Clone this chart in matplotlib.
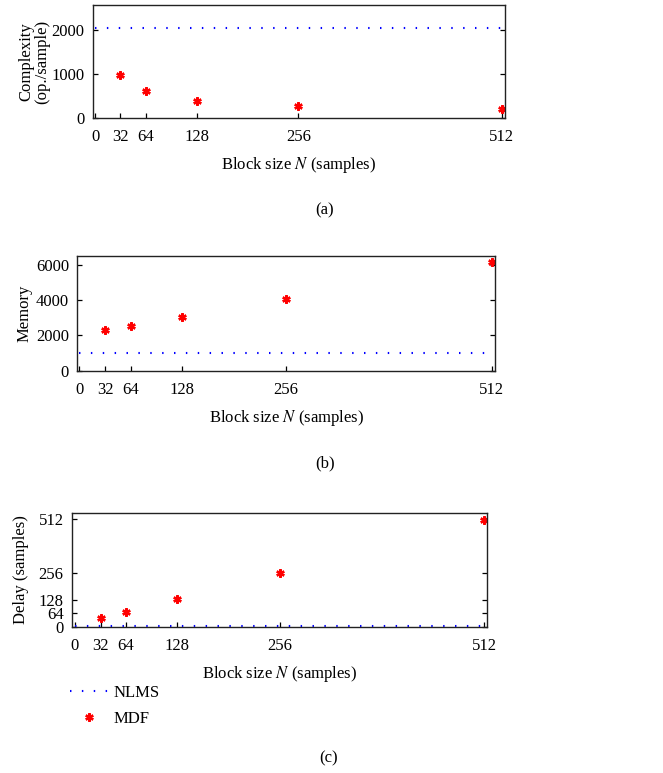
import numpy as np
import matplotlib
matplotlib.use("Agg")
import matplotlib.pyplot as plt

plt.rcParams['font.family'] = ['Liberation Serif', 'DejaVu Serif']
plt.rcParams['mathtext.fontset'] = 'stix'
plt.rcParams['font.size'] = 12

N = [32, 64, 128, 256, 512]
xticks = [0, 32, 64, 128, 256, 512]
nlms_x = [0, 512]

mdf_complexity = [980, 605, 385, 270, 212]
nlms_complexity = 2048
mdf_memory = [2305, 2550, 3060, 4080, 6120]
nlms_memory = 1024
mdf_delay = [40, 72, 133, 256, 507]
nlms_delay = 3

fig = plt.figure(figsize=(6.63, 7.73), dpi=100)
ax_a = fig.add_axes([0.1403, 0.8473, 0.6214, 0.1462])
ax_b = fig.add_axes([0.1166, 0.5204, 0.6300, 0.1488])
ax_c = fig.add_axes([0.1086, 0.1893, 0.6264, 0.1467])

dots = (0, (0.7, 5.0))
panels = [
    (ax_a, mdf_complexity, nlms_complexity, "Complexity\n(op./sample)", [0, 1000, 2000], (0, 2560), (-2.5, 516), -0.104),
    (ax_b, mdf_memory, nlms_memory, "Memory", [0, 2000, 4000, 6000], (0, 6500), (-2.5, 516), -0.108),
    (ax_c, mdf_delay, nlms_delay, "Delay (samples)", [0, 64, 128, 256, 512], (0, 540), (-3.7, 516), -0.104),
]

for ax, mdf, nlms, ylab, yt, ylim, xlim, labx in panels:
    l1, = ax.plot(nlms_x, [nlms, nlms], color='blue', lw=1.5, linestyle=dots, label='NLMS')
    l2, = ax.plot(N, mdf, linestyle='none', marker=(6, 2, 0), markersize=6,
                  markeredgewidth=1.7, color='red', label='MDF')
    ax.set_xlim(*xlim)
    ax.set_ylim(*ylim)
    ax.set_xticks(xticks)
    ax.set_yticks(yt)
    ax.tick_params(direction='in', length=3.5, width=0.9, right=True, top=False)
    ax.tick_params(axis='x', pad=8)
    ax.tick_params(axis='y', pad=6)
    ax.set_xlabel(r"Block size $\mathit{N}$ (samples)", labelpad=7)
    ax.set_ylabel(ylab, linespacing=1.0)
    ax.yaxis.set_label_coords(labx, 0.5)
    for s in ax.spines.values():
        s.set_linewidth(1.0)
        s.set_color('#222222')

fig.text(0.49, 1 - 210 / 773, "(a)", ha='center', va='center')
fig.text(0.49, 1 - 463 / 773, "(b)", ha='center', va='center')
fig.text(0.495, 1 - 758 / 773, "(c)", ha='center', va='center')

fig.legend(handles=[l1, l2], loc='upper left', bbox_to_anchor=(0.105, 1 - 685 / 773),
           frameon=False, handlelength=2.3, handletextpad=0.35, labelspacing=0.6,
           borderaxespad=0, borderpad=0)

fig.savefig("out.png", dpi=100)
